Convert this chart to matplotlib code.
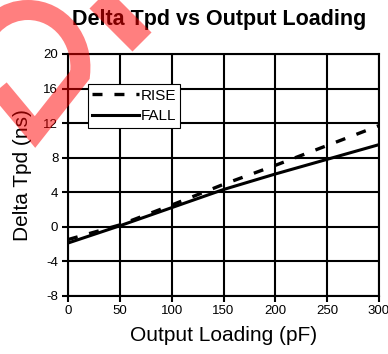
import matplotlib
matplotlib.use("Agg")
import matplotlib.pyplot as plt
from matplotlib.path import Path
from matplotlib.patches import PathPatch
from matplotlib.transforms import Affine2D

# Output loading (pF) and delta propagation delay (ns)
load_pf = [0, 50, 100, 150, 200, 250, 300]
rise_ns = [-1.5, 0.2, 2.5, 4.9, 7.1, 9.4, 11.7]
fall_ns = [-1.9, 0.1, 2.2, 4.3, 6.1, 7.8, 9.5]

x_ticks = [0, 50, 100, 150, 200, 250, 300]
y_ticks = [-8, -4, 0, 4, 8, 12, 16, 20]

plt.rcParams["font.family"] = ["Liberation Sans", "DejaVu Sans"]
plt.rcParams["lines.scale_dashes"] = False
plt.rcParams["axes.unicode_minus"] = False

W, H, DPI = 388, 354, 100
fig = plt.figure(figsize=(W / DPI, H / DPI), dpi=DPI)
ax = fig.add_axes([68 / W, (H - 295.7) / H, 311 / W, 241.7 / H])

ax.plot(load_pf, rise_ns, color="black", lw=2.4, dashes=(7.2, 8.6), label="RISE",
        solid_capstyle="butt", dash_capstyle="butt", zorder=3)
ax.plot(load_pf, fall_ns, color="black", lw=2.2, label="FALL", zorder=3)

ax.set_xlim(0, 300)
ax.set_ylim(-8, 20)
ax.set_xticks(x_ticks)
ax.set_yticks(y_ticks)
ax.grid(True, color="black", lw=1.5)
ax.set_axisbelow(True)
for sp in ax.spines.values():
    sp.set_linewidth(1.5)
ax.tick_params(direction="out", length=4, width=1.5, labelsize=9.5, pad=3)

ax.set_xlabel("Output Loading (pF)", fontsize=15, labelpad=6)
ax.set_ylabel("Delta Tpd (ns)", fontsize=15)
ax.yaxis.set_label_coords(-0.115, 0.5)
fig.text(219 / W, 1 - 25 / H, "Delta Tpd vs Output Loading", ha="center",
         va="baseline", fontsize=15.5, fontweight="bold")

leg = ax.legend(loc="upper left", bbox_to_anchor=(0.063, 0.876), borderaxespad=0,
                fontsize=11, handlelength=3.05, handletextpad=0.1,
                labelspacing=0.45, borderpad=0.3, fancybox=False,
                framealpha=1, edgecolor="black")
leg.get_frame().set_linewidth(0.8)
leg.set_zorder(5)

# Translucent red stamp across the upper-left corner (pixel coordinates)
px = Affine2D().scale(1, -1).translate(0, H)
loop = Path(
    [(-20, 66), (35, 132), (80, 75), (84, 40), (60, 10), (28, 10), (5, 10), (-12, 25), (-20, 45)],
    [Path.MOVETO, Path.LINETO, Path.LINETO, Path.CURVE4, Path.CURVE4, Path.CURVE4,
     Path.CURVE4, Path.CURVE4, Path.CURVE4],
)
fig.add_artist(PathPatch(loop, transform=px, fill=False, edgecolor=(1, 0, 0, 0.5),
                         lw=14.4, joinstyle="miter", capstyle="butt", zorder=10))
bar = Path([(70, -30), (142, 42)], [Path.MOVETO, Path.LINETO])
fig.add_artist(PathPatch(bar, transform=px, fill=False, edgecolor=(1, 0, 0, 0.5),
                         lw=19.4, capstyle="butt", zorder=10))

fig.savefig("out.png", dpi=DPI)
